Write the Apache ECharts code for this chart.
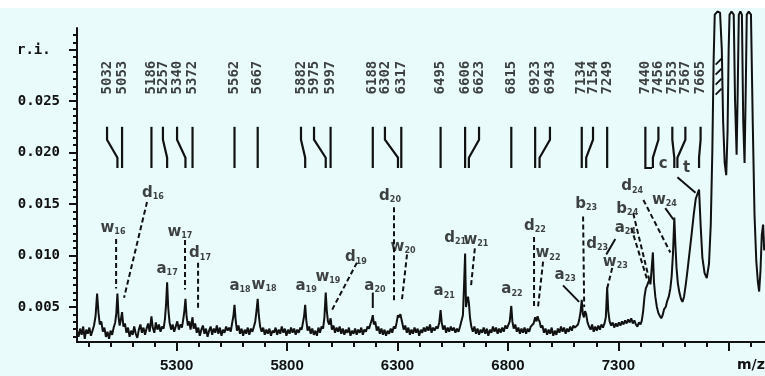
<!DOCTYPE html>
<html>
<head>
<meta charset="utf-8">
<script src="https://cdn.jsdelivr.net/npm/echarts@6/dist/echarts.min.js"></script>
<style>
html,body{margin:0;padding:0;background:#e9fbfb;}
#chart{width:765px;height:376px;}
</style>
</head>
<body>
<div id="chart"></div>
<script>
// MALDI spectrum (m/z vs relative intensity) with fragment ladder annotations

const spectrumPoints = [
[4849,0.0027],[4856,0.0021],[4863,0.0029],[4870,0.0023],[4877,0.0031],[4884,0.0019],[4891,0.0028],[4898,0.0024],[4905,0.0030],[4912,0.0022],
[4919,0.0027],[4926,0.0032],[4933,0.0041],[4940,0.0063],[4946,0.0045],[4952,0.0033],[4959,0.0036],[4966,0.0026],[4973,0.0030],[4980,0.0021],
[4987,0.0026],[4994,0.0019],[5001,0.0027],[5008,0.0023],[5015,0.0030],[5022,0.0035],[5027,0.0044],[5032,0.0063],[5037,0.0041],[5042,0.0032],
[5047,0.0037],[5053,0.0045],[5059,0.0031],[5066,0.0034],[5073,0.0025],[5080,0.0030],[5087,0.0021],[5094,0.0027],[5101,0.0023],[5108,0.0031],
[5115,0.0024],[5122,0.0020],[5129,0.0028],[5136,0.0033],[5143,0.0025],[5150,0.0030],[5157,0.0023],[5164,0.0029],[5171,0.0034],[5178,0.0026],
[5186,0.0041],[5192,0.0030],[5199,0.0025],[5206,0.0035],[5213,0.0028],[5220,0.0033],[5227,0.0026],[5234,0.0031],[5241,0.0029],[5247,0.0038],
[5252,0.0052],[5257,0.0074],[5262,0.0049],[5268,0.0035],[5275,0.0028],[5282,0.0033],[5289,0.0026],[5296,0.0031],[5303,0.0036],[5310,0.0028],
[5317,0.0033],[5324,0.0030],[5330,0.0038],[5335,0.0046],[5340,0.0058],[5345,0.0041],[5351,0.0032],[5357,0.0036],[5363,0.0028],[5368,0.0035],
[5372,0.0040],[5377,0.0029],[5384,0.0034],[5391,0.0025],[5398,0.0030],[5405,0.0022],[5412,0.0028],[5419,0.0032],[5426,0.0024],[5433,0.0029],
[5440,0.0021],[5447,0.0027],[5454,0.0031],[5461,0.0023],[5468,0.0029],[5475,0.0025],[5482,0.0032],[5489,0.0024],[5496,0.0030],[5503,0.0022],
[5510,0.0028],[5517,0.0025],[5524,0.0031],[5531,0.0027],[5538,0.0030],[5545,0.0026],[5551,0.0034],[5557,0.0041],[5562,0.0052],[5567,0.0038],
[5573,0.0027],[5580,0.0032],[5587,0.0024],[5594,0.0029],[5601,0.0022],[5608,0.0028],[5615,0.0024],[5622,0.0030],[5629,0.0023],[5636,0.0029],
[5643,0.0026],[5650,0.0031],[5656,0.0036],[5662,0.0047],[5667,0.0058],[5672,0.0042],[5678,0.0031],[5685,0.0026],[5692,0.0030],[5699,0.0023],
[5706,0.0028],[5713,0.0024],[5720,0.0029],[5727,0.0022],[5734,0.0027],[5741,0.0025],[5748,0.0030],[5755,0.0023],[5762,0.0028],[5769,0.0024],
[5776,0.0031],[5783,0.0025],[5790,0.0029],[5797,0.0022],[5804,0.0028],[5811,0.0024],[5818,0.0030],[5825,0.0025],[5832,0.0029],[5839,0.0023],
[5846,0.0028],[5853,0.0025],[5860,0.0030],[5866,0.0028],[5872,0.0035],[5877,0.0041],[5882,0.0052],[5887,0.0037],[5893,0.0027],[5900,0.0031],
[5907,0.0024],[5914,0.0029],[5921,0.0023],[5928,0.0027],[5935,0.0022],[5942,0.0030],[5949,0.0025],[5956,0.0031],[5963,0.0029],[5969,0.0040],
[5975,0.0064],[5980,0.0046],[5985,0.0036],[5991,0.0033],[5997,0.0039],[6003,0.0028],[6010,0.0032],[6017,0.0025],[6024,0.0030],[6031,0.0026],
[6038,0.0031],[6045,0.0024],[6052,0.0029],[6059,0.0023],[6066,0.0028],[6073,0.0025],[6080,0.0030],[6087,0.0022],[6094,0.0027],[6101,0.0024],
[6108,0.0029],[6115,0.0023],[6122,0.0028],[6129,0.0025],[6136,0.0030],[6143,0.0023],[6150,0.0028],[6157,0.0026],[6164,0.0031],[6171,0.0029],
[6178,0.0034],[6183,0.0037],[6188,0.0042],[6193,0.0033],[6199,0.0036],[6206,0.0027],[6213,0.0031],[6220,0.0024],[6227,0.0029],[6234,0.0023],
[6241,0.0028],[6248,0.0022],[6255,0.0027],[6262,0.0024],[6269,0.0029],[6276,0.0025],[6283,0.0031],[6290,0.0029],[6296,0.0035],[6302,0.0042],
[6308,0.0040],[6313,0.0043],[6317,0.0044],[6322,0.0034],[6328,0.0028],[6335,0.0032],[6342,0.0025],[6349,0.0030],[6356,0.0023],[6363,0.0028],
[6370,0.0024],[6377,0.0030],[6384,0.0025],[6391,0.0029],[6398,0.0022],[6405,0.0028],[6412,0.0025],[6419,0.0030],[6426,0.0026],[6433,0.0031],
[6440,0.0027],[6447,0.0033],[6454,0.0025],[6461,0.0030],[6468,0.0027],[6475,0.0031],[6482,0.0029],[6489,0.0035],[6495,0.0047],[6500,0.0035],
[6506,0.0028],[6513,0.0032],[6520,0.0025],[6527,0.0030],[6534,0.0026],[6541,0.0031],[6548,0.0027],[6555,0.0030],[6562,0.0025],[6569,0.0029],
[6576,0.0026],[6583,0.0031],[6590,0.0030],[6596,0.0042],[6601,0.0070],[6606,0.0102],[6610,0.0050],[6614,0.0056],[6619,0.0060],[6623,0.0054],
[6628,0.0040],[6634,0.0031],[6641,0.0026],[6648,0.0031],[6655,0.0024],[6662,0.0029],[6669,0.0023],[6676,0.0028],[6683,0.0025],[6690,0.0030],
[6697,0.0024],[6704,0.0029],[6711,0.0022],[6718,0.0028],[6725,0.0025],[6732,0.0031],[6739,0.0026],[6746,0.0030],[6753,0.0024],[6760,0.0029],
[6767,0.0025],[6774,0.0030],[6781,0.0026],[6788,0.0032],[6795,0.0029],[6802,0.0030],[6808,0.0036],[6815,0.0051],[6820,0.0036],[6826,0.0029],
[6833,0.0033],[6840,0.0026],[6847,0.0030],[6854,0.0024],[6861,0.0029],[6868,0.0025],[6875,0.0030],[6882,0.0024],[6889,0.0029],[6896,0.0026],
[6903,0.0031],[6910,0.0030],[6916,0.0034],[6923,0.0040],[6929,0.0036],[6934,0.0041],[6938,0.0038],[6943,0.0036],[6949,0.0030],[6956,0.0032],
[6963,0.0025],[6970,0.0029],[6977,0.0023],[6984,0.0028],[6991,0.0024],[6998,0.0030],[7005,0.0022],[7012,0.0027],[7019,0.0023],[7026,0.0029],
[7033,0.0025],[7040,0.0031],[7047,0.0026],[7054,0.0030],[7061,0.0024],[7068,0.0029],[7075,0.0026],[7082,0.0031],[7089,0.0027],[7096,0.0032],
[7103,0.0030],[7110,0.0029],[7117,0.0033],[7123,0.0038],[7129,0.0046],[7134,0.0057],[7139,0.0043],[7144,0.0040],[7149,0.0046],[7154,0.0043],
[7160,0.0035],[7167,0.0031],[7174,0.0028],[7181,0.0033],[7188,0.0026],[7195,0.0031],[7202,0.0027],[7209,0.0032],[7216,0.0028],[7223,0.0033],
[7230,0.0030],[7237,0.0034],[7243,0.0040],[7249,0.0069],[7254,0.0046],[7260,0.0036],[7267,0.0032],[7274,0.0035],[7281,0.0030],[7288,0.0034],
[7295,0.0031],[7302,0.0035],[7309,0.0032],[7316,0.0036],[7323,0.0033],[7330,0.0037],[7337,0.0034],[7344,0.0038],[7351,0.0035],[7358,0.0039],
[7365,0.0034],[7372,0.0037],[7379,0.0033],[7386,0.0031],[7393,0.0035],[7400,0.0033],[7406,0.0037],[7412,0.0046],[7418,0.0060],[7424,0.0068],
[7430,0.0071],[7435,0.0074],[7440,0.0076],[7445,0.0072],[7450,0.0086],[7456,0.0103],[7461,0.0074],[7467,0.0060],[7474,0.0050],[7481,0.0044],
[7488,0.0041],[7494,0.0039],[7500,0.0042],[7507,0.0048],[7514,0.0050],[7521,0.0056],[7528,0.0060],[7535,0.0068],[7541,0.0080],[7547,0.0102],
[7553,0.0137],[7558,0.0110],[7563,0.0088],[7569,0.0073],[7576,0.0064],[7583,0.0058],[7590,0.0055],[7597,0.0060],[7605,0.0072],[7614,0.0088],
[7623,0.0105],[7632,0.0122],[7641,0.0140],[7650,0.0155],[7658,0.0160],[7665,0.0164],[7672,0.0130],[7680,0.0098],[7690,0.0083],[7700,0.0078],
[7710,0.0092],[7718,0.0130],[7725,0.0200],[7731,0.0290],[7736,0.0334],[7748,0.0337],[7760,0.0336],[7768,0.0300],[7774,0.0230],[7781,0.0190],
[7788,0.0178],[7794,0.0220],[7799,0.0300],[7803,0.0334],[7812,0.0337],[7822,0.0334],[7828,0.0250],[7835,0.0198],[7840,0.0260],[7845,0.0334],
[7852,0.0337],[7859,0.0334],[7865,0.0230],[7871,0.0190],[7877,0.0270],[7881,0.0334],[7890,0.0337],[7900,0.0334],[7908,0.0230],[7916,0.0140],
[7924,0.0095],[7931,0.0075],[7937,0.0065],[7943,0.0085],[7949,0.0120],[7955,0.0130],[7960,0.0105]
];

// Ladder of assigned masses (top of plot)
const ladderMasses  = [5032,5053,5186,5257,5340,5372,5562,5667,5882,5975,5997,6188,6302,6317,6495,6606,6623,6815,6923,6943,7134,7154,7249,7440,7456,7553,7567,7665];
// Column (m/z position) where each mass label is printed
const ladderColumns = [4985,5053,5186,5238,5302,5372,5562,5667,5863,5922,5997,6188,6243,6317,6495,6606,6669,6815,6923,6990,7134,7185,7249,7422,7481,7544,7603,7672];
const ladderShapes  = ['S','I','I','S','S','I','I','I','S','S','I','I','S','I','I','I','S','I','I','S','I','S','I','L','S','S','S','S'];

// Fragment ion labels
const fragmentLetters = ['w','d','a','w','d','a','w','a','w','d','a','d','w','a','d','w','a','d','w','a','b','d','w','b','a','d','w','c','t'];
const fragmentIndices = ['16','16','17','17','17','18','18','19','19','19','20','20','20','21','21','21','22','22','22','23','23','23','23','24','24','24','24','',''];
const fragmentAnchors = [
[5012,0.0127],[5193,0.0161],[5257,0.0087],[5315,0.0123],[5406,0.0102],[5587,0.0070],[5696,0.0071],[5886,0.0070],[5985,0.0079],[6112,0.0098],
[6198,0.0070],[6266,0.0158],[6325,0.0108],[6511,0.0065],[6561,0.0117],[6655,0.0115],[6818,0.0067],[6922,0.0129],[6981,0.0102],[7059,0.0081],
[7154,0.0150],[7204,0.0111],[7286,0.0094],[7340,0.0145],[7331,0.0127],[7362,0.0167],[7508,0.0154],[7503,0.0189],[7608,0.0185]
];

// Leader lines from labels to peaks: [path, dashed]
const leaderPaths = [
[[[5026,0.0116],[5026,0.0068]], true],
[[[5166,0.0152],[5062,0.0059]], true],
[[[5338,0.0115],[5338,0.0067]], true],
[[[5397,0.0093],[5397,0.0047]], true],
[[[6116,0.0093],[6003,0.0047]], true],
[[[6188,0.0064],[6188,0.0049]], false],
[[[6284,0.0147],[6284,0.0055]], true],
[[[6343,0.0101],[6320,0.0057]], true],
[[[6650,0.0107],[6632,0.0069]], true],
[[[6918,0.0118],[6918,0.0050]], true],
[[[6959,0.0094],[6936,0.0050]], true],
[[[7049,0.0071],[7122,0.0055]], false],
[[[7140,0.0138],[7145,0.0050]], true],
[[[7286,0.0116],[7245,0.0101]], false],
[[[7272,0.0088],[7249,0.0068]], true],
[[[7367,0.0141],[7440,0.0076]], true],
[[[7358,0.0127],[7431,0.0076]], true],
[[[7413,0.0154],[7535,0.0103]], true],
[[[7512,0.0146],[7549,0.0135]], false],
[[[7567,0.0176],[7649,0.0161]], false]
];

// Short hatch strokes inside the off-scale peak
const hatchStrokes = [
[[7740,0.02855],[7767,0.02913]],
[[7740,0.02757],[7767,0.02816]],
[[7740,0.02660],[7767,0.02718]],
[[7740,0.02563],[7767,0.02621]]
];

const xTicksMajor = [5300,5800,6300,6800,7300,7800];
const xTickLabels = [5300,5800,6300,6800,7300];
const yTickLabels = [0.005,0.010,0.015,0.020,0.025];

const ink = '#111';
const X_MIN = 4849, X_MAX = 7963, Y_MIN = 0.0016, Y_MAX = 0.0321;
const LADDER_TOP = 0.0225, LADDER_B1 = 0.02125, LADDER_B2 = 0.0195, LADDER_BOTTOM = 0.0185, LADDER_TEXT = 0.02728;

const xTicksMinor = [];
for (let t = 4900; t <= 7900; t += 100) xTicksMinor.push(t);
const yTicksMajor = yTickLabels.concat([0.030]);
const yTicksMinor = [];
for (let k = -4; k <= 38; k++) {
  const t = 0.005 + k * 0.005 / 7;
  if (t > Y_MIN && t < Y_MAX) yTicksMinor.push(t);
}

function ladderPath(i) {
  const m = ladderMasses[i], c = ladderColumns[i], s = ladderShapes[i];
  if (s === 'I') return [[m, LADDER_TOP], [m, LADDER_BOTTOM]];
  if (s === 'L') return [[c, LADDER_TOP], [c, LADDER_BOTTOM], [m + 12, LADDER_BOTTOM]];
  return [[c, LADDER_TOP], [c, LADDER_B1], [m, LADDER_B2], [m, LADDER_BOTTOM]];
}

const chart = echarts.init(document.getElementById('chart'), null, {renderer: 'canvas'});

const option = {
  animation: false,
  backgroundColor: '#e9fbfb',
  grid: {left: 77, top: 28, width: (X_MAX - X_MIN) * 0.2209, height: 314, containLabel: false},
  graphic: [
    {type: 'rect', left: 0, top: 0, shape: {width: 765, height: 8}, style: {fill: '#ffffff'}, silent: true},
    {type: 'text', left: 17, top: 43, style: {text: 'r.i.', font: 'bold 14px "DejaVu Sans Mono"', fill: ink}},
    {type: 'text', left: 737, top: 358, style: {text: 'm/z', font: 'bold 14px "DejaVu Sans"', fill: ink}}
  ],
  xAxis: [
    {
      type: 'value', min: X_MIN, max: X_MAX,
      axisLine: {lineStyle: {color: ink, width: 2}},
      splitLine: {show: false},
      axisTick: {show: true, length: 9, customValues: xTicksMajor, lineStyle: {color: ink, width: 2}},
      axisLabel: {customValues: xTickLabels, margin: 16, color: ink, fontFamily: 'Liberation Sans', fontWeight: 'bold', fontSize: 15,
        formatter: v => String(Math.round(v))}
    },
    {
      type: 'value', min: X_MIN, max: X_MAX, position: 'bottom',
      axisLine: {show: false}, splitLine: {show: false},
      axisTick: {show: true, length: 5, customValues: xTicksMinor, lineStyle: {color: ink, width: 2}},
      axisLabel: {show: false}
    }
  ],
  yAxis: [
    {
      type: 'value', min: Y_MIN, max: Y_MAX,
      axisLine: {show: true, lineStyle: {color: ink, width: 2}},
      splitLine: {show: false},
      axisTick: {show: true, length: 8, customValues: yTicksMajor, lineStyle: {color: ink, width: 2}},
      axisLabel: {customValues: yTickLabels, margin: 17, color: ink, fontFamily: 'DejaVu Sans Mono', fontWeight: 'bold', fontSize: 14,
        formatter: v => v.toFixed(3)}
    },
    {
      type: 'value', min: Y_MIN, max: Y_MAX, position: 'left',
      axisLine: {show: false}, splitLine: {show: false},
      axisTick: {show: true, length: 4, customValues: yTicksMinor, lineStyle: {color: ink, width: 2}},
      axisLabel: {show: false}
    }
  ],
  series: [
    {
      type: 'line', name: 'spectrum', data: spectrumPoints, showSymbol: false, clip: false,
      lineStyle: {color: ink, width: 2}, z: 5, silent: true
    },
    {
      type: 'lines', coordinateSystem: 'cartesian2d', polyline: true, silent: true,
      data: ladderMasses.map((m, i) => ({coords: ladderPath(i)})),
      lineStyle: {color: ink, width: 2.2, opacity: 1}, z: 4
    },
    {
      type: 'lines', coordinateSystem: 'cartesian2d', polyline: true, silent: true,
      data: leaderPaths.map(p => ({coords: p[0], lineStyle: {type: p[1] ? [5, 3] : 'solid'}})),
      lineStyle: {color: ink, width: 2, opacity: 1}, z: 4
    },
    {
      type: 'lines', coordinateSystem: 'cartesian2d', polyline: true, silent: true,
      data: hatchStrokes.map(c => ({coords: c})),
      lineStyle: {color: ink, width: 1.8, opacity: 1}, z: 4
    },
    {
      type: 'scatter', symbolSize: 0, silent: true, z: 6,
      data: ladderMasses.map((m, i) => ({value: [ladderColumns[i], LADDER_TEXT], name: String(m)})),
      label: {show: true, position: 'inside', rotate: 90, formatter: p => p.name,
        fontFamily: 'DejaVu Sans Mono', fontWeight: 'bold', fontSize: 14, color: ink}
    },
    {
      type: 'scatter', symbolSize: 0, silent: true, z: 6,
      data: fragmentAnchors.map((a, i) => ({value: a, name: fragmentLetters[i] + fragmentIndices[i]})),
      label: {
        show: true, position: 'inside',
        formatter: p => {
          const i = p.dataIndex;
          return '{m|' + fragmentLetters[i] + '}' + (fragmentIndices[i] ? '{s|' + fragmentIndices[i] + '}' : '');
        },
        rich: {
          m: {fontFamily: 'DejaVu Sans', fontWeight: 'bold', fontSize: 15, color: ink, lineHeight: 16},
          s: {fontFamily: 'DejaVu Sans', fontWeight: 'bold', fontSize: 8, color: ink, lineHeight: 16, verticalAlign: 'bottom'}
        }
      }
    }
  ]
};

chart.setOption(option);
</script>
</body>
</html>
